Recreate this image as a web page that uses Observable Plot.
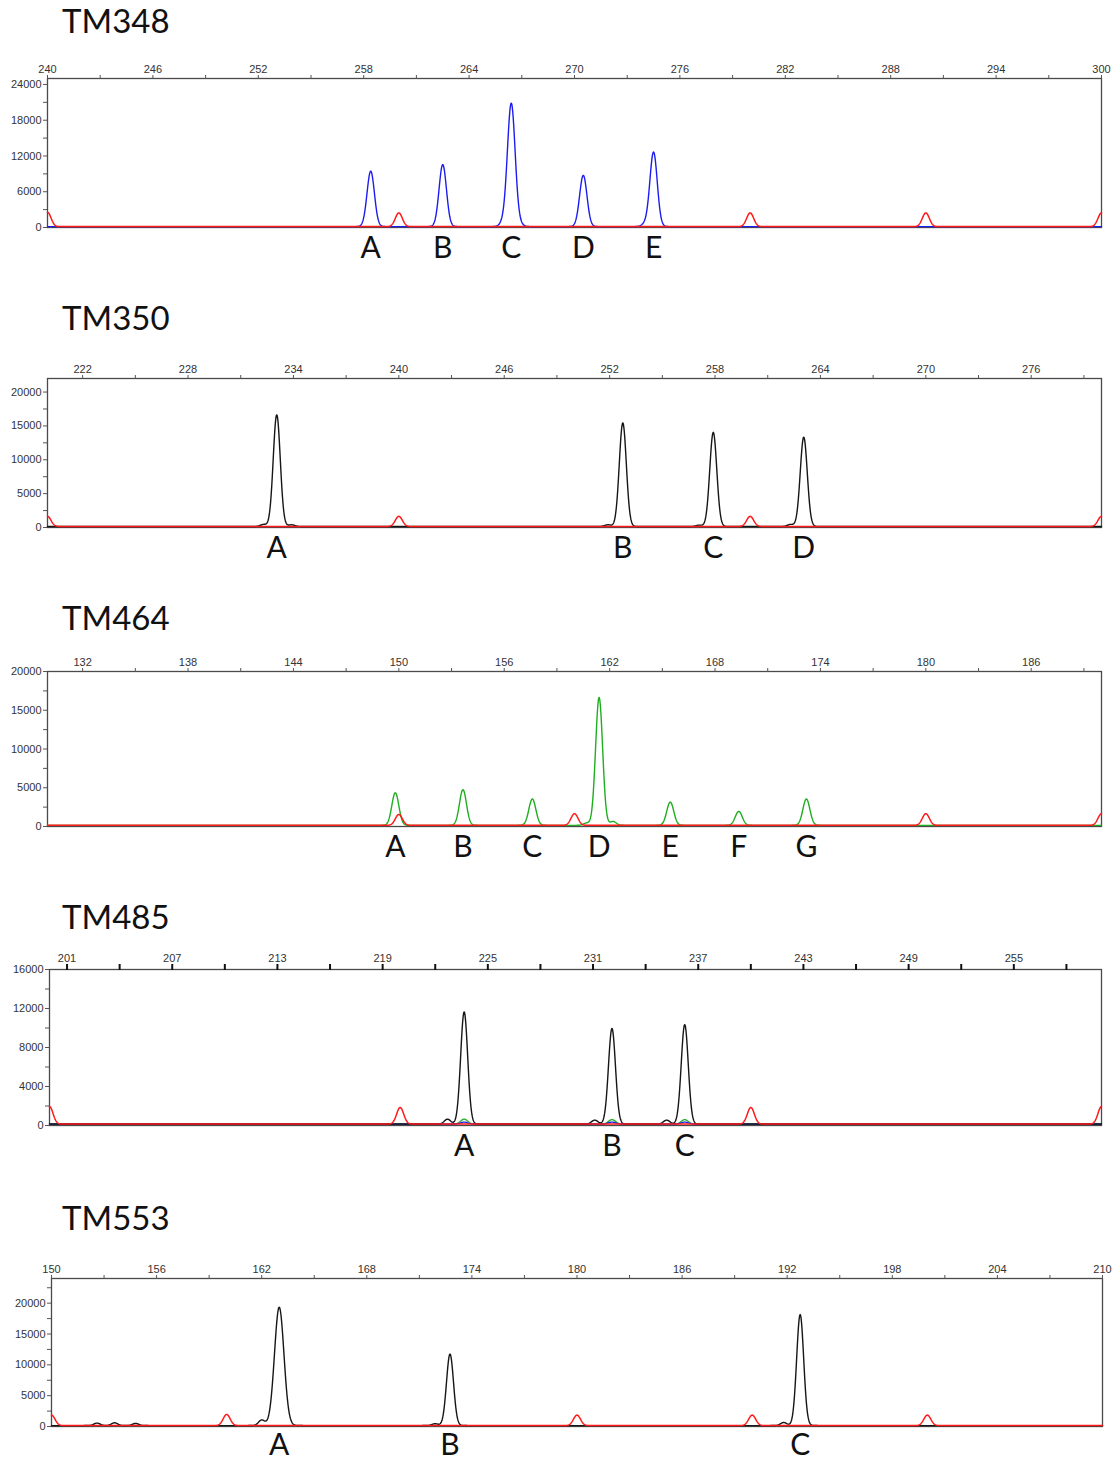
<!DOCTYPE html>
<html>
<head>
<meta charset="utf-8">
<script src="https://cdn.jsdelivr.net/npm/d3@7"></script>
<script src="https://cdn.jsdelivr.net/npm/@observablehq/plot@0.6"></script>
<style>
  html, body { margin: 0; padding: 0; background: #fff; }
  #root { position: relative; width: 1118px; height: 1462px; background: #fff; }
  .title { position: absolute; left: 62px; font-family: Lato, "Open Sans", sans-serif; font-size: 33px; line-height: 33px; color: #111; white-space: nowrap; }
  .panel { position: absolute; left: 0; }
</style>
</head>
<body>
<div id="root"></div>
<script>
// ---------------- DATA ----------------
const markerNames = ["TM348", "TM350", "TM464", "TM485", "TM553"];
const sizeRanges = [[240, 300], [220, 280], [130, 190], [200, 260], [150, 210]];
const firstLabeledSize = [240, 222, 132, 201, 150];
const rfuMax = [25000, 22000, 20000, 16000, 24000];
const rfuStep = [6000, 5000, 5000, 4000, 5000];
const alleleDye = ["blue", "black", "green", "black", "black"];

// TM348
const tm348Alleles = ["A", "B", "C", "D", "E"];
const tm348AlleleSize = [258.4, 262.5, 266.4, 270.5, 274.5];
const tm348AlleleRFU = [9300, 10400, 20700, 8600, 12500];
const tm348MinorSize = [265.9, 266.9, 274.0];
const tm348MinorRFU = [500, 300, 400];
const tm348LadderSize = [240, 260, 280, 290, 300];
const tm348LadderRFU = [2400, 2300, 2300, 2300, 2300];

// TM350
const tm350Alleles = ["A", "B", "C", "D"];
const tm350AlleleSize = [233.05, 252.75, 257.9, 263.05];
const tm350AlleleRFU = [16500, 15300, 13900, 13200];
const tm350MinorSize = [232.3, 233.9, 251.9, 257.1, 262.3];
const tm350MinorRFU = [300, 250, 250, 200, 300];
const tm350LadderSize = [220, 240, 260, 280];
const tm350LadderRFU = [1500, 1500, 1500, 1500];

// TM464
const tm464Alleles = ["A", "B", "C", "D", "E", "F", "G"];
const tm464AlleleSize = [149.8, 153.65, 157.6, 161.4, 165.45, 169.35, 173.2];
const tm464AlleleRFU = [4200, 4600, 3400, 16500, 3000, 1800, 3400];
const tm464MinorSize = [160.7, 162.2];
const tm464MinorRFU = [300, 500];
const tm464LadderSize = [150, 160, 180, 190];
const tm464LadderRFU = [1400, 1500, 1500, 1500];

// TM485
const tm485Alleles = ["A", "B", "C"];
const tm485AlleleSize = [223.65, 232.08, 236.23];
const tm485AlleleRFU = [11500, 9800, 10200];
const tm485MinorSize = [222.7, 231.1, 235.2];
const tm485MinorRFU = [500, 400, 400];
const tm485GreenSize = [223.65, 232.08, 236.23];
const tm485GreenRFU = [500, 450, 450];
const tm485BlueSize = [223.65, 232.08, 236.23];
const tm485BlueRFU = [200, 200, 200];
const tm485LadderSize = [200, 220, 240, 260];
const tm485LadderRFU = [1800, 1700, 1700, 1800];

// TM553
const tm553Alleles = ["A", "B", "C"];
const tm553AlleleSize = [163.0, 172.75, 192.74];
const tm553AlleleRFU = [19200, 11600, 18000];
const tm553MinorSize = [152.6, 153.6, 154.8, 162.0, 171.9, 191.8];
const tm553MinorRFU = [400, 450, 350, 900, 300, 500];
const tm553LadderSize = [150, 160, 180, 190, 200];
const tm553LadderRFU = [1700, 1800, 1700, 1700, 1700];

// ---------------- LAYOUT / STYLE ----------------
const dyeColor = { blue: "#1c1cf0", black: "#161616", green: "#1fae1f", red: "#ff1a1a" };
const frameTop = [78, 378, 671, 969, 1278];
const frameBottom = [227, 527, 826, 1125, 1426];
const frameLeft = [47, 47, 47, 49, 51];
const frameRight = [1101, 1101, 1101, 1101, 1102];
const titleBaseline = [33, 330, 630, 929, 1230];
const letterDy = [21, 21, 21, 21, 19];
const boldTicks = [false, false, false, true, false];
const baselineRFU = 150;

const panelData = [
  { alleles: tm348Alleles, size: tm348AlleleSize, rfu: tm348AlleleRFU, minorSize: tm348MinorSize, minorRFU: tm348MinorRFU, ladSize: tm348LadderSize, ladRFU: tm348LadderRFU, sigma: [0.21, 0.21, 0.22, 0.21, 0.21] },
  { alleles: tm350Alleles, size: tm350AlleleSize, rfu: tm350AlleleRFU, minorSize: tm350MinorSize, minorRFU: tm350MinorRFU, ladSize: tm350LadderSize, ladRFU: tm350LadderRFU, sigma: [0.2, 0.2, 0.2, 0.2] },
  { alleles: tm464Alleles, size: tm464AlleleSize, rfu: tm464AlleleRFU, minorSize: tm464MinorSize, minorRFU: tm464MinorRFU, ladSize: tm464LadderSize, ladRFU: tm464LadderRFU, sigma: [0.2, 0.2, 0.2, 0.2, 0.2, 0.2, 0.2] },
  { alleles: tm485Alleles, size: tm485AlleleSize, rfu: tm485AlleleRFU, minorSize: tm485MinorSize, minorRFU: tm485MinorRFU, ladSize: tm485LadderSize, ladRFU: tm485LadderRFU, sigma: [0.2, 0.2, 0.2],
    extra: [{ dye: "green", size: tm485GreenSize, rfu: tm485GreenRFU }, { dye: "blue", size: tm485BlueSize, rfu: tm485BlueRFU }] },
  { alleles: tm553Alleles, size: tm553AlleleSize, rfu: tm553AlleleRFU, minorSize: tm553MinorSize, minorRFU: tm553MinorRFU, ladSize: tm553LadderSize, ladRFU: tm553LadderRFU, sigma: [0.27, 0.2, 0.2] }
];

function trace(domain, peaks, base) {
  const step = 0.02;
  const n = Math.round((domain[1] - domain[0]) / step);
  return d3.range(n + 1).map(i => {
    const x = domain[0] + i * step;
    let y = base;
    for (const p of peaks) y += p.h * Math.exp(-0.5 * ((x - p.x) / p.s) ** 2);
    return { x, y };
  });
}

const root = document.getElementById("root");
const marginTop = 30;

markerNames.forEach((name, i) => {
  const dom = sizeRanges[i];
  const pd = panelData[i];
  const alleleColor = dyeColor[alleleDye[i]];
  const marginBottom = Math.min(44, 1462 - frameBottom[i]);

  const allelePeaks = pd.size.map((x, k) => ({ x, h: pd.rfu[k], s: pd.sigma[k] }))
    .concat(pd.minorSize.map((x, k) => ({ x, h: pd.minorRFU[k], s: 0.18 })));
  const ladderPeaks = pd.ladSize.map((x, k) => ({ x, h: pd.ladRFU[k], s: 0.2 }));

  const alleleTrace = trace(dom, allelePeaks, baselineRFU);
  const ladderTrace = trace(dom, ladderPeaks, baselineRFU);

  // x ticks every 3 units, labels every 6
  let start = firstLabeledSize[i];
  while (start - 3 >= dom[0]) start -= 3;
  const xTicks = d3.range(start, dom[1] + 1e-9, 3);
  const xFmt = d => (Math.round(d - firstLabeledSize[i]) % 6 === 0 ? String(d) : "");
  const half = rfuStep[i] / 2;
  const yTicks = d3.range(0, rfuMax[i] + 1e-9, half);
  const yFmt = d => (d % rfuStep[i] === 0 ? String(d) : "");

  const labels = pd.alleles.map((a, k) => ({ label: a, x: pd.size[k] }));

  const marks = [
    Plot.frame({ stroke: "#4a4a4a", strokeWidth: 1.3 }),
    Plot.axisX({ anchor: "top", label: null, ticks: xTicks, tickFormat: xFmt, tickSize: boldTicks[i] ? 6 : 4, tickPadding: 2, stroke: boldTicks[i] ? "#111" : "#555", strokeWidth: boldTicks[i] ? 2 : 1, fill: "#333", fontSize: 11 }),
    Plot.axisY({ anchor: "left", label: null, ticks: yTicks, tickFormat: yFmt, tickSize: 4, tickPadding: 2, stroke: "#555", fill: "#333", fontSize: 11 })
  ];
  if (pd.extra) {
    pd.extra.forEach(ex => {
      const pk = ex.size.map((x, k) => ({ x, h: ex.rfu[k], s: 0.2 }));
      marks.push(Plot.line(trace(dom, pk, baselineRFU), { x: "x", y: "y", stroke: dyeColor[ex.dye], strokeWidth: 1.3 }));
    });
  }
  marks.push(Plot.line(alleleTrace, { x: "x", y: "y", stroke: alleleColor, strokeWidth: 1.4 }));
  marks.push(Plot.line(ladderTrace, { x: "x", y: "y", stroke: dyeColor.red, strokeWidth: 1.5 }));
  marks.push(Plot.text(labels, { x: "x", text: "label", frameAnchor: "bottom", dy: letterDy[i], lineAnchor: "middle", fontSize: 30, fontFamily: "Lato, Open Sans, sans-serif", fill: "#111" }));

  const plotH = frameBottom[i] - frameTop[i];
  const chart = Plot.plot({
    width: 1118,
    height: marginTop + plotH + marginBottom,
    marginTop,
    marginBottom,
    marginLeft: frameLeft[i],
    marginRight: 1118 - frameRight[i],
    x: { domain: dom, axis: null },
    y: { domain: [0, rfuMax[i]], axis: null },
    style: { fontFamily: "Liberation Sans, Arial, sans-serif", fontSize: "11px", background: "transparent", overflow: "visible" },
    marks
  });

  const wrap = document.createElement("div");
  wrap.className = "panel";
  wrap.style.top = (frameTop[i] - marginTop) + "px";
  wrap.appendChild(chart);
  root.appendChild(wrap);

  const t = document.createElement("div");
  t.className = "title";
  t.textContent = name;
  t.style.top = (titleBaseline[i] - 29) + "px";
  root.appendChild(t);
});
</script>
</body>
</html>
